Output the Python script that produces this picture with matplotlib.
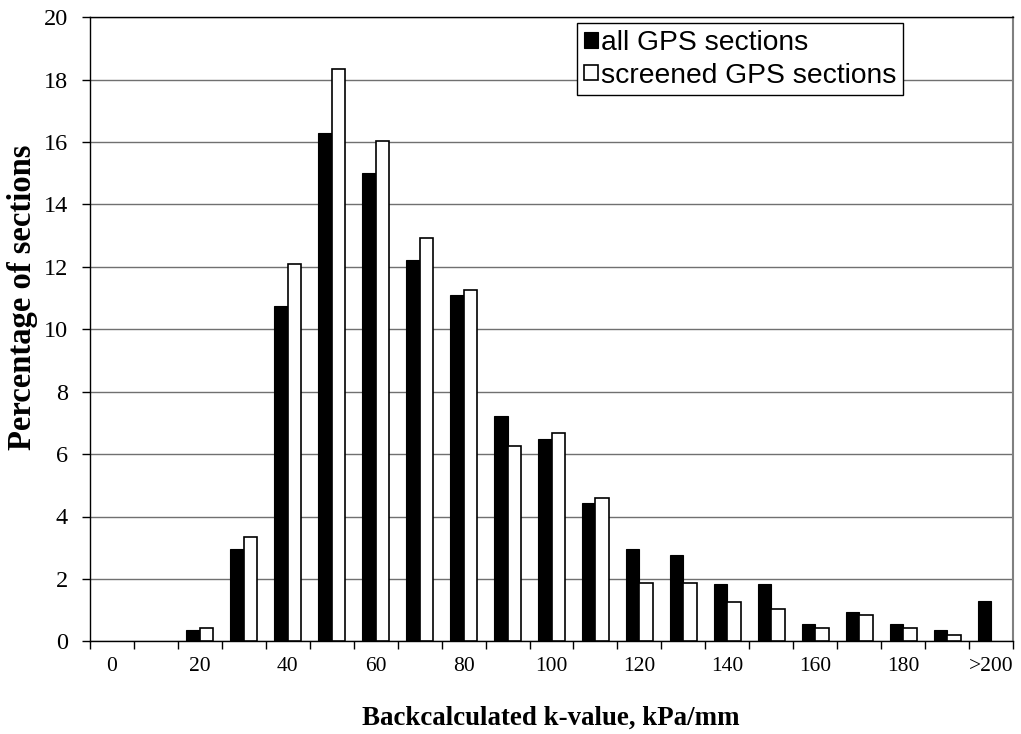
import matplotlib
matplotlib.use("Agg")
import matplotlib.pyplot as plt
import numpy as np

categories = ["0", "10", "20", "30", "40", "50", "60", "70", "80", "90", "100",
              "110", "120", "130", "140", "150", "160", "170", "180", "190", ">200"]
all_gps = [0, 0, 0.37, 2.96, 10.74, 16.30, 15.00, 12.22, 11.11, 7.22, 6.48,
           4.44, 2.96, 2.78, 1.85, 1.85, 0.56, 0.93, 0.56, 0.37, 1.30]
screened_gps = [0, 0, 0.42, 3.33, 12.08, 18.33, 16.04, 12.92, 11.25, 6.25, 6.67,
                4.58, 1.87, 1.87, 1.25, 1.04, 0.42, 0.83, 0.42, 0.21, 0]
series_names = ["all GPS sections", "screened GPS sections"]
tick_labels = ["0", "20", "40", "60", "80", "100", "120", "140", "160", "180", ">200"]
y_ticks = [0, 2, 4, 6, 8, 10, 12, 14, 16, 18, 20]

serif = "Liberation Serif"
sans = "Liberation Sans"

fig = plt.figure(figsize=(10.21, 7.34), dpi=100)
ax = fig.add_axes([90 / 1021, 1 - 641.3 / 734, 923 / 1021, 624 / 734])

x = np.arange(len(categories))
w = 0.307
a = np.array(all_gps, dtype=float)
s = np.array(screened_gps, dtype=float)
ma = a > 0
ms = s > 0
ax.bar(x[ma] - w / 2, a[ma], width=w, color="black", edgecolor="black",
       linewidth=0.8, label=series_names[0], zorder=3)
ax.bar(x[ms] + w / 2, s[ms], width=w, color="white", edgecolor="black",
       linewidth=1.2, label=series_names[1], zorder=3)

ax.set_xlim(-0.5, len(categories) - 0.5)
ax.set_ylim(0, 20)

ax.set_yticks(y_ticks)
ax.set_yticklabels([str(t) for t in y_ticks], fontfamily=serif, fontsize=17.5)
ax.yaxis.grid(True, color="#707070", linewidth=1.0, zorder=0)
ax.set_axisbelow(True)

# major ticks at category boundaries (marks only), labels at every second category
ax.set_xticks(np.arange(-0.5, len(categories), 1.0))
ax.set_xticklabels([])
ax.set_xticks(np.arange(0, len(categories), 2), minor=True)
ax.set_xticklabels(tick_labels, minor=True, fontfamily=serif, fontsize=15.5)
ax.tick_params(axis="x", which="minor", length=0, pad=11)
ax.tick_params(axis="x", which="major", direction="out", length=6, width=1)
ax.tick_params(axis="y", direction="out", length=6, width=1, pad=10)

for sp in ["left", "bottom", "top"]:
    ax.spines[sp].set_color("black")
    ax.spines[sp].set_linewidth(1.0)
ax.spines["right"].set_color("#808080")
ax.spines["right"].set_linewidth(1.5)

ax.set_xlabel("Backcalculated k-value, kPa/mm", fontfamily=serif,
              fontweight="bold", fontsize=19.4)
ax.xaxis.set_label_coords(0.4995, -0.1037)
ax.xaxis.label.set_va("top")
ax.set_ylabel("Percentage of sections", fontfamily=serif,
              fontweight="bold", fontsize=23.5)
ax.yaxis.set_label_coords(-0.0563, 0.552)

leg = ax.legend(loc="upper left", bbox_to_anchor=(0.5280, 0.9909),
                prop={"family": sans, "size": 20.3}, frameon=True, fancybox=False,
                edgecolor="black", framealpha=1, handlelength=0.48,
                handleheight=0.48, handletextpad=0.12, borderpad=0.24,
                labelspacing=0.24, borderaxespad=0)
leg.get_frame().set_linewidth(1.0)
leg.set_zorder(5)

fig.savefig("out.png", dpi=100)
